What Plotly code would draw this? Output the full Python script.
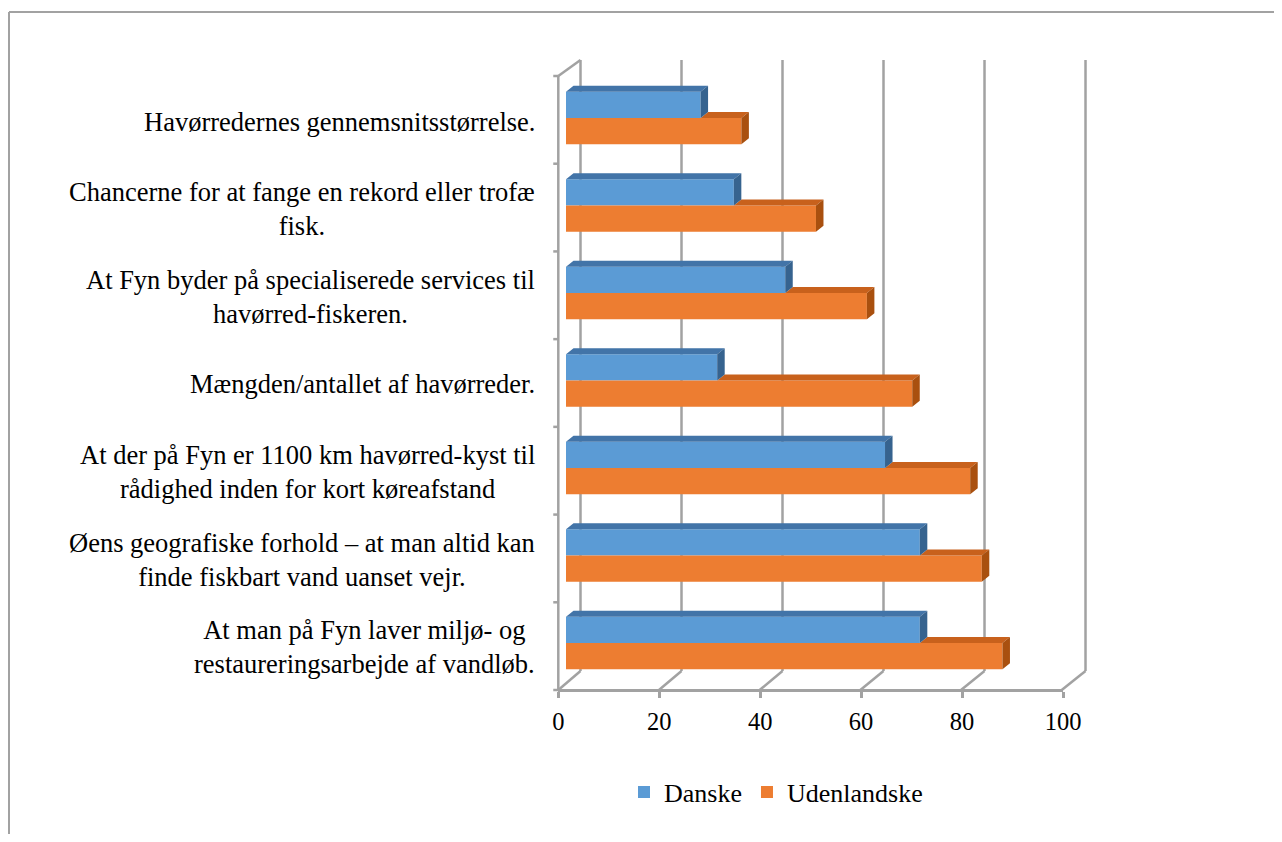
import plotly.graph_objects as go

categories = [
    "Havørredernes gennemsnitsstørrelse.",
    "Chancerne for at fange en rekord eller trofæ<br>fisk.",
    "At Fyn byder på specialiserede services til<br>havørred-fiskeren.",
    "Mængden/antallet af havørreder.",
    "At der på Fyn er 1100 km havørred-kyst til<br>rådighed inden for kort køreafstand",
    "Øens geografiske forhold – at man altid kan<br>finde fiskbart vand uanset vejr.",
    "At man på Fyn laver miljø- og<br>restaureringsarbejde af vandløb.",
]
danske = [26.7, 33.3, 43.5, 30.0, 63.3, 70.2, 70.2]
udenlandske = [34.8, 49.6, 59.7, 68.7, 80.2, 82.5, 86.6]
x_ticks = [0, 20, 40, 60, 80, 100]
series_names = ["Danske", "Udenlandske"]

# page body has an 8px margin, so the figure is a bit smaller than the window
PAD = 8
W, H = 1282 - 2 * PAD, 842 - 2 * PAD
FONT = '"Liberation Serif", "Times New Roman", Times, serif'
GRID = "#a2a2a2"
BLUE, BLUE_TOP, BLUE_SIDE = "#5b9bd5", "#4274a8", "#36638f"
ORANGE, ORANGE_TOP, ORANGE_SIDE = "#ed7d31", "#c8611c", "#a9500f"


def fx(px):
    return (px - PAD) / W


def fy(py):
    return 1 - (py - PAD) / H


# pixel geometry of the fake 3d box (window pixels)
px_bar0, px_unit = 566.0, 5.04      # bar plane: x=0 pixel, px per unit
cat0_px, cat_px = 118.0, 87.5       # first category centre, px per category
x_dom = (540, 1100)
y_dom = (40, 710)


def xd(px):
    return (px - px_bar0) / px_unit


def yd(py):
    return (py - cat0_px) / cat_px


front_off, back_off = xd(558.3), xd(580.5)
front_top, front_bot = yd(76), yd(690)
back_top, back_bot = yd(60), yd(671)
dx, dy = 7.5 / px_unit, 6.0 / cat_px
bw = 0.3

fig = go.Figure()

fig.add_trace(go.Bar(name=series_names[0], y=list(range(len(categories))), x=danske,
                     orientation="h", width=bw, offset=-bw, marker_color=BLUE,
                     marker_line_width=0))
fig.add_trace(go.Bar(name=series_names[1], y=list(range(len(categories))), x=udenlandske,
                     orientation="h", width=bw, offset=0, marker_color=ORANGE,
                     marker_line_width=0))

# 3d faces of the bars
bt_x, bt_y, bs_x, bs_y, ot_x, ot_y, os_x, os_y = [], [], [], [], [], [], [], []
for i, (vb, vo) in enumerate(zip(danske, udenlandske)):
    yt, yb = i - bw, i
    bt_x += [0, vb, vb + dx, dx, 0, None]
    bt_y += [yt, yt, yt - dy, yt - dy, yt, None]
    bs_x += [vb, vb + dx, vb + dx, vb, vb, None]
    bs_y += [yt, yt - dy, yb - dy, yb, yt, None]
    yt, yb = i, i + bw
    start = min(vb, vo)
    ot_x += [start, vo, vo + dx, start + dx, start, None]
    ot_y += [yt, yt, yt - dy, yt - dy, yt, None]
    os_x += [vo, vo + dx, vo + dx, vo, vo, None]
    os_y += [yt, yt - dy, yb - dy, yb, yt, None]

for xs, ys, col in [(ot_x, ot_y, ORANGE_TOP), (os_x, os_y, ORANGE_SIDE),
                    (bt_x, bt_y, BLUE_TOP), (bs_x, bs_y, BLUE_SIDE)]:
    fig.add_trace(go.Scatter(x=xs, y=ys, mode="lines", fill="toself", fillcolor=col,
                             line=dict(width=0, color=col), showlegend=False,
                             hoverinfo="skip"))

# dummy trace so the front value axis is drawn
fig.add_trace(go.Scatter(x=[0, 100], y=[None, None], xaxis="x2", yaxis="y",
                         showlegend=False, hoverinfo="skip"))

shapes = []
line = dict(color=GRID, width=2.5)
for v in x_ticks:
    bx = back_off + v * 1.002
    fxv = front_off + v * 0.9988
    shapes.append(dict(type="line", xref="x", yref="y", x0=bx, x1=bx, y0=back_top, y1=back_bot,
                       line=line, layer="below"))
    shapes.append(dict(type="line", xref="x", yref="y", x0=fxv, x1=bx, y0=front_bot, y1=back_bot,
                       line=line, layer="below"))
shapes.append(dict(type="line", xref="x", yref="y", x0=front_off, x1=back_off,
                   y0=front_top, y1=back_top, line=line, layer="below"))
shapes.append(dict(type="line", xref="x", yref="y", x0=front_off, x1=front_off,
                   y0=front_top, y1=front_bot, line=line, layer="below"))
n = len(categories)
for k in range(n + 1):
    yk = front_top + (front_bot - front_top) * k / n
    shapes.append(dict(type="line", xref="x", yref="y", x0=front_off - 1.0, x1=front_off,
                       y0=yk, y1=yk, line=line, layer="below"))
# outer frame
shapes.append(dict(type="line", xref="paper", yref="paper", x0=fx(9), x1=1,
                   y0=fy(12), y1=fy(12), line=dict(color=GRID, width=2)))
shapes.append(dict(type="line", xref="paper", yref="paper", x0=fx(9), x1=fx(9),
                   y0=fy(12), y1=0, line=dict(color=GRID, width=2)))

annotations = [dict(text=c, xref="paper", yref="y", x=fx(537), y=i, xanchor="right",
                    yanchor="middle", align="center", showarrow=False, yshift=-4,
                    font=dict(family=FONT, size=26.5, color="black"))
               for i, c in enumerate(categories)]

fig.update_layout(
    width=W, height=H, autosize=False,
    margin=dict(l=0, r=0, t=0, b=0, pad=0),
    paper_bgcolor="white", plot_bgcolor="rgba(0,0,0,0)",
    barmode="overlay",
    font=dict(family=FONT, size=24, color="black"),
    xaxis=dict(domain=[fx(x_dom[0]), fx(x_dom[1])], range=[xd(x_dom[0]), xd(x_dom[1])],
               showgrid=False, zeroline=False, showticklabels=False, fixedrange=True,
               automargin=False),
    xaxis2=dict(domain=[fx(558.3), fx(1063)], range=[0, 100], anchor="free",
                position=fy(690), tickvals=x_ticks, ticks="outside", ticklen=6,
                tickcolor=GRID, tickwidth=2.5, showline=True, linecolor=GRID, linewidth=2.5,
                showgrid=False, zeroline=False, automargin=False,
                tickfont=dict(family=FONT, size=24.5, color="black"),
                ticklabelstandoff=3),
    yaxis=dict(domain=[fy(y_dom[1]), fy(y_dom[0])], range=[yd(y_dom[1]), yd(y_dom[0])],
               showgrid=False, zeroline=False, showticklabels=False, fixedrange=True,
               automargin=False),
    shapes=shapes,
    annotations=annotations,
    showlegend=True,
    legend=dict(orientation="h", x=fx(776), xanchor="center", y=fy(792), yanchor="middle",
                font=dict(family=FONT, size=26, color="black"), itemwidth=30,
                bgcolor="rgba(0,0,0,0)"),
)

fig.write_html("out.html")
